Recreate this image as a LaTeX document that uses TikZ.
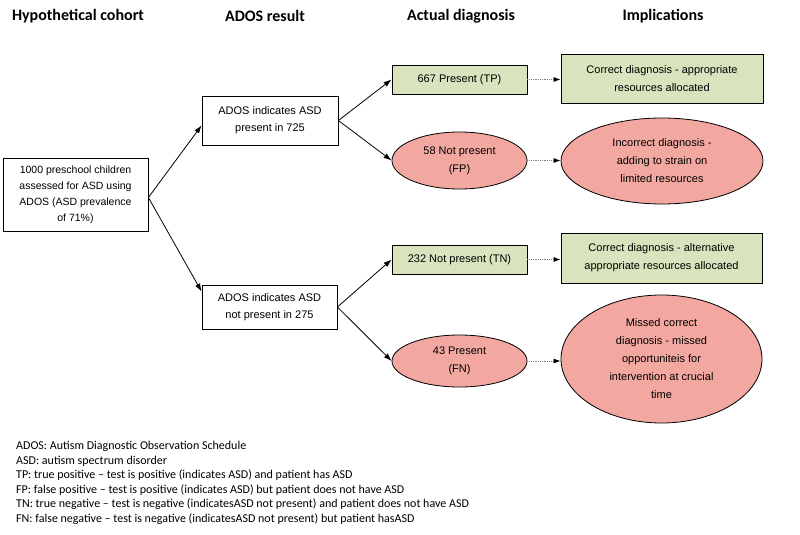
\documentclass[tikz,border=0pt]{standalone}
\usepackage{fontspec}
\setmainfont{Liberation Sans}
\newfontfamily\calfont{Carlito}
\usetikzlibrary{shapes.geometric,arrows.meta}
\definecolor{boxgreen}{HTML}{D7E4BD}
\definecolor{ovalpink}{HTML}{F2A8A0}
\tikzset{
  base/.style={draw=black, line width=0.8pt, inner sep=0pt, align=center,
    font=\fontsize{11}{18}\selectfont},
  whitebox/.style={base, rectangle, fill=white},
  greenbox/.style={base, rectangle, fill=boxgreen},
  pinkoval/.style={base, ellipse, fill=ovalpink},
  header/.style={font=\calfont\bfseries\fontsize{16}{18}\selectfont, inner sep=0pt},
  legend/.style={font=\calfont\fontsize{12}{14.5}\selectfont, inner sep=0pt, align=left, anchor=north west},
  solidarrow/.style={line width=0.8pt, -{Latex[length=8pt,width=5.5pt]}},
  dotarrow/.style={line width=0.8pt, draw=gray, densely dotted, -{Latex[length=7pt,width=5pt,color=black,fill=black]}}
}
\begin{document}
\begin{tikzpicture}[x=1pt,y=-1pt]
\useasboundingbox (0,0) rectangle (800,535);
\fill[white] (0,0) rectangle (800,535);

% headers
\node[header] (h1) at (78,16) {Hypothetical cohort};
\node[header] (h2) at (265,16) {ADOS result};
\node[header] (h3) at (461,16) {Actual diagnosis};
\node[header] (h4) at (663,16) {Implications};

% nodes
\node[whitebox, minimum width=145, minimum height=73, font=\fontsize{10.5}{16}\selectfont] (cohort) at (75.5,194.5)
  {1000 preschool children\\assessed for ASD using\\ADOS (ASD prevalence\\of 71\%)};
\node[whitebox, minimum width=136, minimum height=49, font=\fontsize{11}{17}\selectfont] (pos) at (270,120.5)
  {ADOS indicates ASD\\present in 725};
\node[whitebox, minimum width=135, minimum height=44, font=\fontsize{11}{17}\selectfont] (neg) at (269.5,307)
  {ADOS indicates ASD\\not present in 275};

\node[greenbox, minimum width=135, minimum height=29] (tp) at (459.5,79.5) {667 Present (TP)};
\node[pinkoval, minimum width=135, minimum height=57] (fp) at (459.5,160.5) {58 Not present\\(FP)};
\node[greenbox, minimum width=135, minimum height=29] (tn) at (459.5,259.5) {232 Not present (TN)};
\node[pinkoval, minimum width=135, minimum height=52] (fn) at (459.5,361) {43 Present\\(FN)};

\node[greenbox, minimum width=202, minimum height=49] (corr1) at (662,78.5)
  {Correct diagnosis - appropriate\\resources allocated};
\node[pinkoval, minimum width=202, minimum height=86] (inc) at (662,161)
  {Incorrect diagnosis -\\adding to strain on\\limited resources};
\node[greenbox, minimum width=201, minimum height=50] (corr2) at (661.5,258)
  {Correct diagnosis - alternative\\appropriate resources allocated};
\node[pinkoval, minimum width=201, minimum height=128] (missed) at (661.5,359)
  {Missed correct\\diagnosis - missed\\opportuniteis for\\intervention at crucial\\time};

% connectors
\draw[solidarrow] ([yshift=-3pt]cohort.east) -- ([yshift=20pt]pos.south west);
\draw[solidarrow] ([yshift=-3pt]cohort.east) -- ([yshift=-7pt]neg.north west);
\draw[solidarrow] (pos.east) -- (tp.west);
\draw[solidarrow] (pos.east) -- (fp.west);
\draw[solidarrow] (neg.east) -- (tn.west);
\draw[solidarrow] (neg.east) -- (fn.west);

\draw[dotarrow] (tp.east) -- (tp.east -| corr1.west);
\draw[dotarrow] (fp.east) -- (fp.east -| inc.west);
\draw[dotarrow] (tn.east) -- (tn.east -| corr2.west);
\draw[dotarrow] (fn.east) -- (fn.east -| missed.west);

% legend
\node[legend] (legend) at (16,441)
  {ADOS: Autism Diagnostic Observation Schedule\\
   ASD: autism spectrum disorder\\
   TP: true positive – test is positive (indicates ASD) and patient has ASD\\
   FP: false positive – test is positive (indicates ASD) but patient does not have ASD\\
   TN: true negative – test is negative (indicatesASD not present) and patient does not have ASD\\
   FN: false negative – test is negative (indicatesASD not present) but patient hasASD};
\end{tikzpicture}
\end{document}
